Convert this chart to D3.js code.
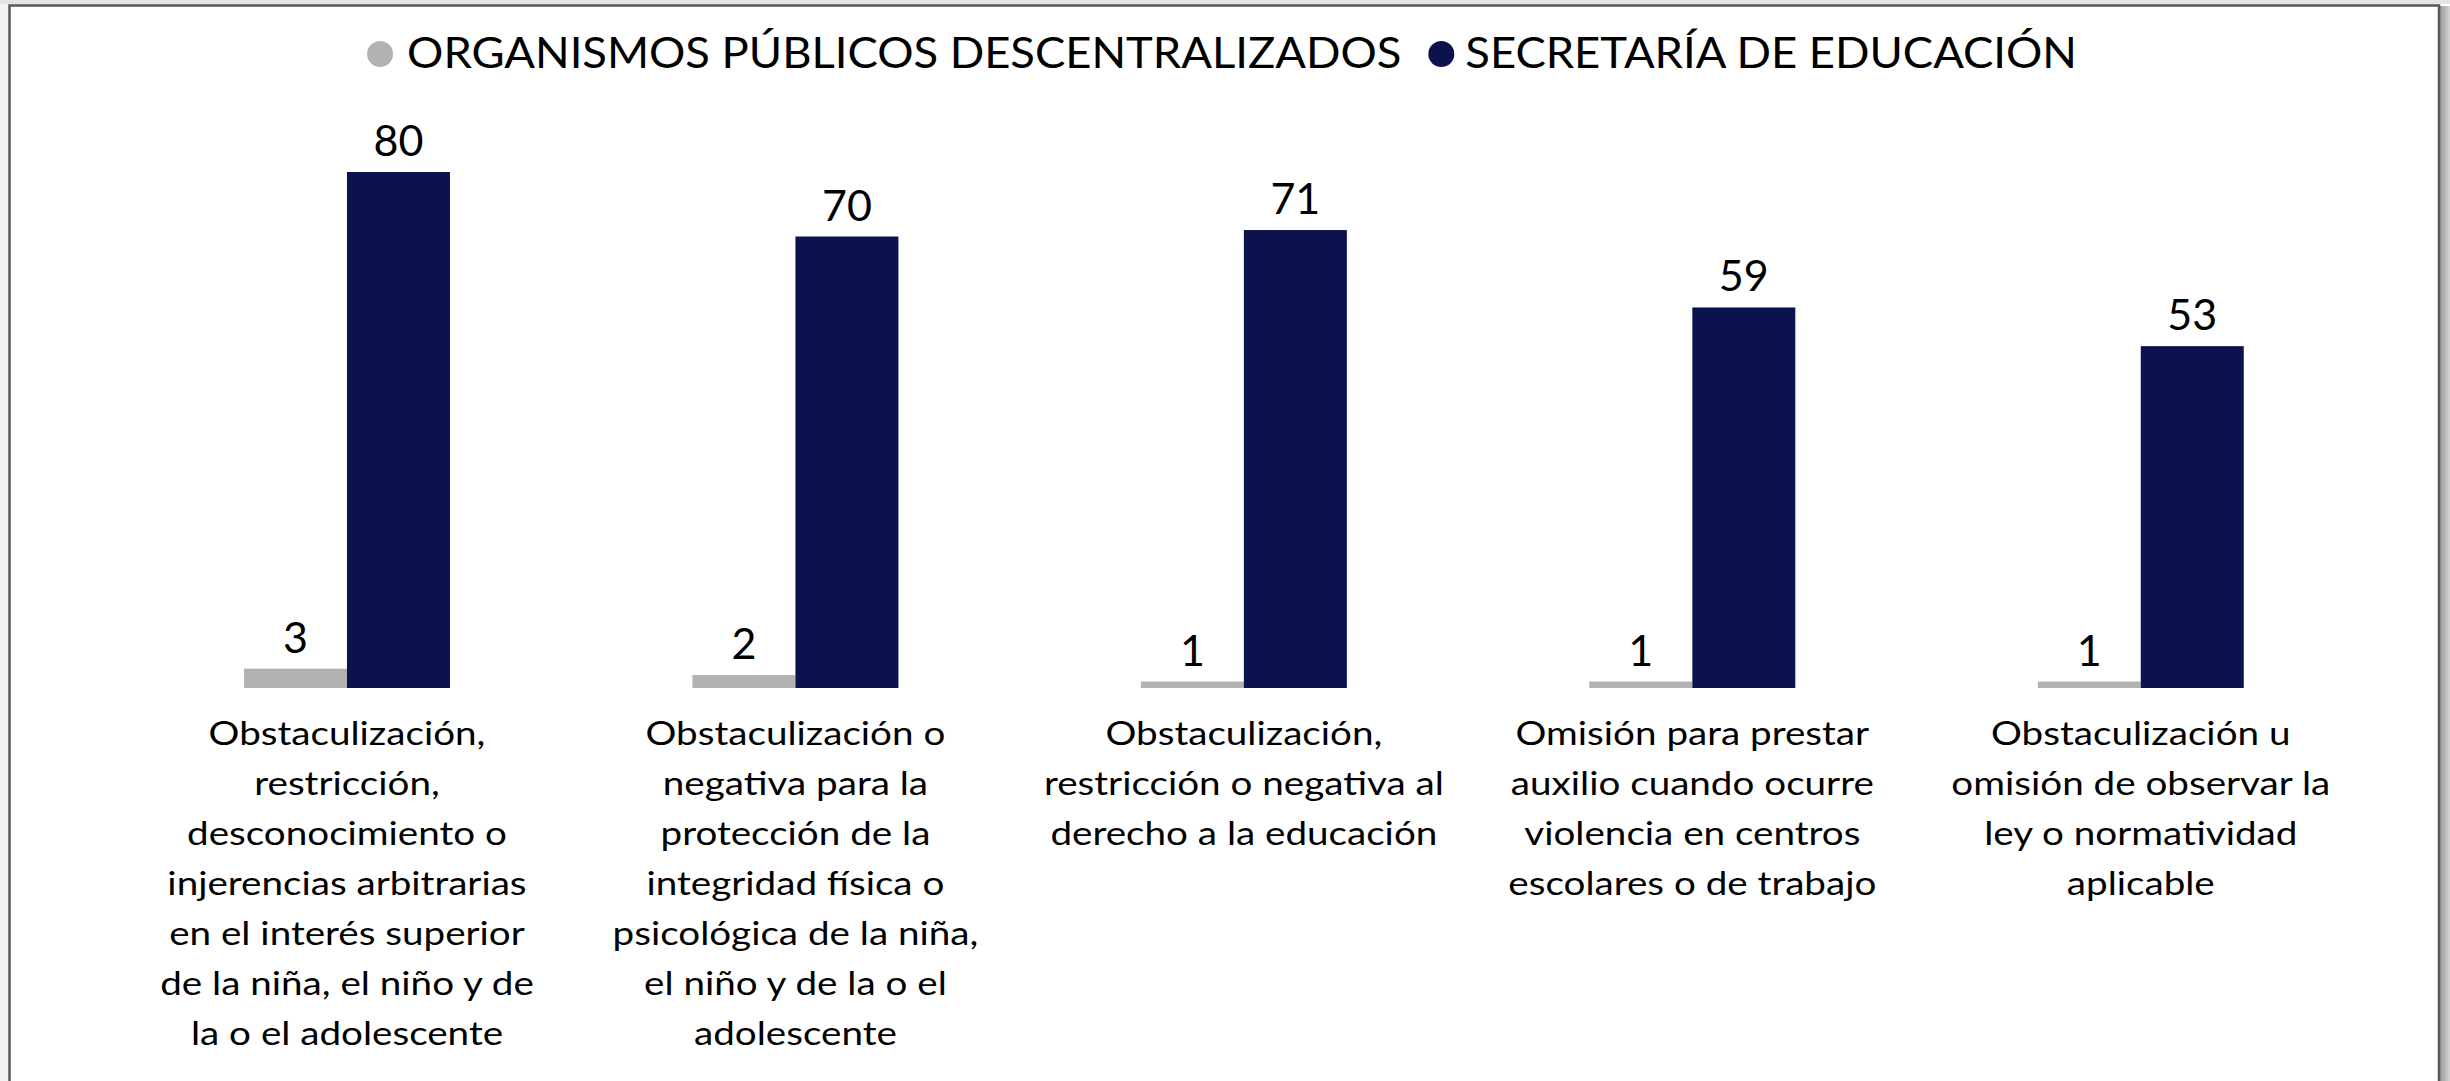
<!DOCTYPE html>
<html>
<head>
<meta charset="utf-8">
<script src="https://cdn.jsdelivr.net/npm/d3@7"></script>
<style>
  html, body { margin: 0; padding: 0; background: #ffffff; overflow: hidden; }
  svg { display: block; font-family: Lato, "Open Sans", sans-serif; }
</style>
</head>
<body>
<svg id="chart" width="2450" height="1081"></svg>
<script>
// Categories (each one already broken into the lines shown under its bars)
const categoryLines = [
  ["Obstaculización,", "restricción,", "desconocimiento o", "injerencias arbitrarias", "en el interés superior", "de la niña, el niño y de", "la o el adolescente"],
  ["Obstaculización o", "negativa para la", "protección de la", "integridad física o", "psicológica de la niña,", "el niño y de la o el", "adolescente"],
  ["Obstaculización,", "restricción o negativa al", "derecho a la educación"],
  ["Omisión para prestar", "auxilio cuando ocurre", "violencia en centros", "escolares o de trabajo"],
  ["Obstaculización u", "omisión de observar la", "ley o normatividad", "aplicable"]
];
const seriesNames = ["ORGANISMOS PÚBLICOS DESCENTRALIZADOS", "SECRETARÍA DE EDUCACIÓN"];
const organismosValues = [3, 2, 1, 1, 1];
const secretariaValues = [80, 70, 71, 59, 53];
const seriesColors = ["#b2b2b2", "#0b124d"];

const seriesValues = [organismosValues, secretariaValues];
const catIds = categoryLines.map((d, i) => i);

const svg = d3.select("#chart");

// Frame with a soft shadow along the right edge
const defs = svg.append("defs");
const grad = defs.append("linearGradient").attr("id", "edgeShade").attr("x1", 0).attr("x2", 1);
grad.append("stop").attr("offset", 0).attr("stop-color", "#9a9a9a");
grad.append("stop").attr("offset", 1).attr("stop-color", "#d6d6d6");
svg.append("rect").attr("x", 2440).attr("y", 6).attr("width", 10).attr("height", 1081).attr("fill", "url(#edgeShade)");
svg.append("rect").attr("x", 0).attr("y", 0).attr("width", 2450).attr("height", 4).attr("fill", "#e4e4e4");
svg.append("rect").attr("x", 0).attr("y", 4).attr("width", 8).attr("height", 1081).attr("fill", "#f3f3f3");
svg.append("rect")
  .attr("x", 9.5).attr("y", 5.5).attr("width", 2429.5).attr("height", 1090)
  .attr("fill", "#ffffff").attr("stroke", "#575757").attr("stroke-width", 2.5);

// Scales
const x0 = d3.scaleBand().domain(catIds).range([122.75, 2365]).paddingInner(0.5407).paddingOuter(0.5407 / 2);
const x1 = d3.scaleBand().domain([0, 1]).range([0, x0.bandwidth()]).padding(0);
const y = d3.scaleLinear().domain([0, 90]).range([688, 107.5]);

// Bars
const groups = svg.append("g").selectAll("g")
  .data(catIds).join("g")
  .attr("transform", d => `translate(${x0(d)},0)`);

groups.selectAll("rect")
  .data(ci => seriesValues.map((vals, si) => ({ si, v: vals[ci] })))
  .join("rect")
  .attr("x", d => x1(d.si))
  .attr("y", d => y(d.v))
  .attr("width", x1.bandwidth())
  .attr("height", d => y(0) - y(d.v))
  .attr("fill", d => seriesColors[d.si]);

// Value labels above the bars
groups.selectAll("text.val")
  .data(ci => seriesValues.map((vals, si) => ({ si, v: vals[ci] })))
  .join("text")
  .attr("class", "val")
  .attr("x", d => x1(d.si) + x1.bandwidth() / 2)
  .attr("y", d => y(d.v) - 16)
  .attr("text-anchor", "middle")
  .attr("font-size", 43)
  .attr("fill", "#000")
  .text(d => d3.format("d")(d.v));

// Category labels (slightly widened lettering)
const labels = svg.append("g").selectAll("text")
  .data(catIds).join("text")
  .attr("text-anchor", "middle")
  .attr("font-size", 33)
  .attr("fill", "#000")
  .attr("transform", d => `translate(${x0(d) + x0.bandwidth() / 2},${y(0) + 57}) scale(1.17,1)`);

labels.selectAll("tspan")
  .data(d => categoryLines[d])
  .join("tspan")
  .attr("x", 0)
  .attr("y", (d, i) => i * 50)
  .text(d => d);

// Legend centred across the top
const legendStretch = 1.08;
const legend = svg.append("g");
const items = legend.selectAll("g").data(seriesNames).join("g");
items.append("circle").attr("r", 13).attr("cy", 0).attr("fill", (d, i) => seriesColors[i]);
items.append("text")
  .attr("transform", (d, i) => `translate(${i === 0 ? 27 : 24},14) scale(${legendStretch},1)`)
  .attr("font-size", 42)
  .attr("fill", "#000")
  .text(d => d);

let offset = 0;
items.each(function (d, i) {
  const g = d3.select(this);
  g.attr("transform", `translate(${offset},0)`);
  const w = g.select("text").node().getComputedTextLength() * legendStretch;
  offset += (i === 0 ? 27 : 24) + w + 40;
});
const totalW = offset - 40 + 13;
legend.attr("transform", `translate(${1222 - totalW / 2 + 13},54)`);
</script>
</body>
</html>
